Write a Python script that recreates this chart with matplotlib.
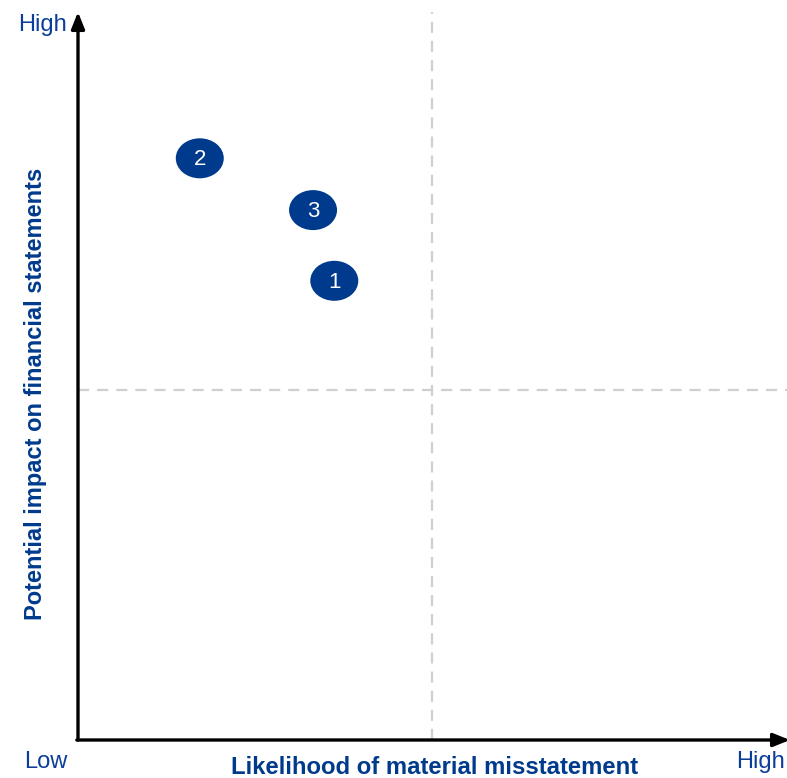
import matplotlib
matplotlib.use("Agg")
import matplotlib.pyplot as plt
from matplotlib.patches import Ellipse

# data
labels = ["1", "2", "3"]
likelihood = [0.362, 0.172, 0.332]
impact = [0.656, 0.831, 0.757]
x_mid = 0.5
y_mid = 0.5

W, H = 787, 778
fig = plt.figure(figsize=(W/100, H/100), dpi=100)
ax = fig.add_axes([78/W, 38/H, (W-78)/W, 728/H])
ax.set_xlim(0, 709/708)
ax.set_ylim(0, 728/700)
ax.axis("off")

blue = "#003A8C"
txt = "#0B3D9A"
font = "Liberation Sans"

ax.axvline(x_mid, color="#cfcfcf", lw=1.6, ls=(0, (5.0, 3.6)), ymax=1.0)
ax.axhline(y_mid, color="#cfcfcf", lw=1.6, ls=(0, (5.0, 3.6)), xmax=1.0)

# axes arrows
ax.annotate("", xy=(0, 728/700), xytext=(0, 0),
            arrowprops=dict(arrowstyle="-|>,head_length=1.0,head_width=0.4", color="black", lw=2.4,
                            shrinkA=0, shrinkB=0), annotation_clip=False)
ax.annotate("", xy=(712/708, 0), xytext=(-1.2/708, 0),
            arrowprops=dict(arrowstyle="-|>,head_length=1.0,head_width=0.4", color="black", lw=2.4,
                            shrinkA=0, shrinkB=0), annotation_clip=False)

for lab, x, y in zip(labels, likelihood, impact):
    ax.add_patch(Ellipse((x, y), 48/708, 40/700, facecolor=blue, edgecolor="none", zorder=3))
    ax.text(x, y - 0.002, lab, color="white", ha="center", va="center", fontsize=16,
            family=font, zorder=4)

fig.text(67/W, 1-25/H, "High", ha="right", va="center", fontsize=17, color=txt, family=font)
fig.text(46/W, 1-762/H, "Low", ha="center", va="center", fontsize=17, color=txt, family=font)
fig.text(760/W, 1-762/H, "High", ha="center", va="center", fontsize=17, color=txt, family=font)
fig.text(435/W, 1-768/H, "Likelihood of material misstatement", ha="center", va="center",
         fontsize=17.2, fontweight="bold", color=blue, family=font)
fig.text(36/W, 1-394/H, "Potential impact on financial statements", ha="center", va="center",
         rotation=90, fontsize=17, fontweight="bold", color=blue, family=font)

fig.savefig("out.png", dpi=100)
